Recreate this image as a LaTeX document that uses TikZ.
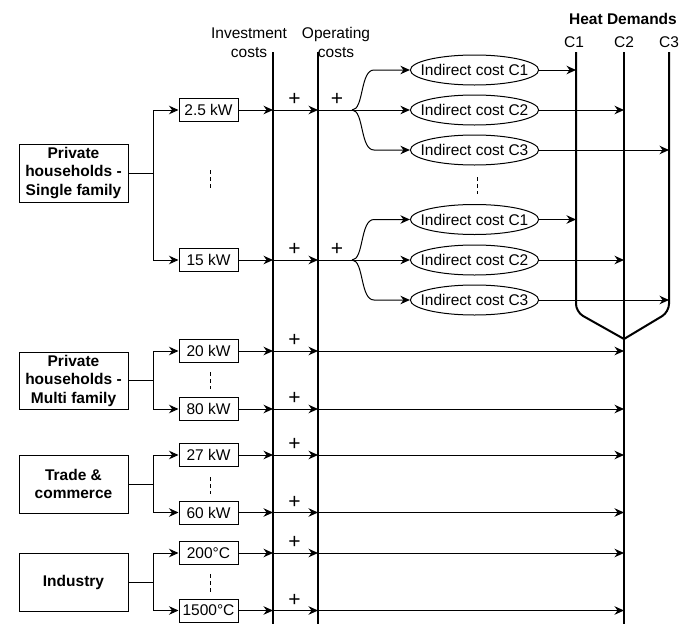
\documentclass[tikz,border=0pt]{standalone}
\usepackage{fontspec}
\setmainfont{Liberation Sans}
\usetikzlibrary{arrows.meta,shapes.geometric}
\begin{document}
\begin{tikzpicture}[x=1pt,y=-1pt,
  every node/.style={font=\fontsize{15.5}{19}\selectfont, inner sep=0pt},
  catbox/.style={draw, line width=1pt, minimum width=109pt, minimum height=58pt, align=center, font=\fontsize{15.5}{18.5}\selectfont\bfseries},
  capbox/.style={draw, line width=1pt, minimum width=59pt, minimum height=23pt},
  costell/.style={draw, ellipse, line width=1pt, minimum width=127pt, minimum height=30pt, inner xsep=-8.5pt, inner ysep=0pt},
  link/.style={line width=1pt},
  arr/.style={line width=1pt, -{Stealth[length=9.5pt,width=8.5pt]}},
  bar/.style={line width=2pt},
  plus/.style={font=\fontsize{21}{21}\selectfont},
  dots/.style={line width=1pt, dash pattern=on 4pt off 3pt},
]
\useasboundingbox (0,0) rectangle (694,624);

% vertical bars
\coordinate (invtop) at (273,52);
\coordinate (optop) at (318,52);
\coordinate (c1top) at (576,52);
\coordinate (c2top) at (624,52);
\coordinate (c3top) at (669,52);
\coordinate (merge) at (624,339);
\draw[bar] (invtop) -- (273,624);
\draw[bar] (optop) -- (318,624);
\draw[bar] (c2top) -- (624,624);
\draw[bar, rounded corners=8pt] (c1top) -- (576,312) -- (merge);
\draw[bar, rounded corners=8pt] (c3top) -- (669,312) -- (merge);

% top labels
\node[align=center] (invlab) at (249,42.5) {Investment\\costs};
\node[align=center] (oplab) at (336,42.5) {Operating\\costs};
\node[font=\fontsize{15.5}{19}\selectfont\bfseries] (hd) at (623,19) {Heat Demands};
\node (lc1) at (574,42) {C1};
\node (lc2) at (624,42) {C2};
\node (lc3) at (669,42) {C3};

% category boxes
\node[catbox] (sf) at (73.5,173) {Private\\households -\\Single family};
\node[catbox, minimum height=57pt] (mf) at (73.5,380.5) {Private\\households -\\Multi family};
\node[catbox] (tc) at (73.5,484) {Trade \&\\commerce};
\node[catbox] (in) at (73.5,582) {Industry};

% capacity boxes
\node[capbox] (b1) at (208.5,110) {2.5 kW};
\node[capbox] (b2) at (208.5,260) {15 kW};
\node[capbox] (b3) at (208.5,351) {20 kW};
\node[capbox] (b4) at (208.5,409) {80 kW};
\node[capbox] (b5) at (208.5,455) {27 kW};
\node[capbox] (b6) at (208.5,512.5) {60 kW};
\node[capbox] (b7) at (208.5,553) {200°C};
\node[capbox] (b8) at (208.5,610.5) {1500°C};

% brackets
\coordinate (j1) at (153,173);
\coordinate (j2) at (153,380.5);
\coordinate (j3) at (153,484);
\coordinate (j4) at (153,582);
\draw[link] (sf.east) -- (j1);
\draw[arr] (j1) |- (b1.west);
\draw[arr] (j1) |- (b2.west);
\draw[link] (mf.east) -- (j2);
\draw[arr] (j2) |- (b3.west);
\draw[arr] (j2) |- (b4.west);
\draw[link] (tc.east) -- (j3);
\draw[arr] (j3) |- (b5.west);
\draw[arr] (j3) |- (b6.west);
\draw[link] (in.east) -- (j4);
\draw[arr] (j4) |- (b7.west);
\draw[arr] (j4) |- (b8.west);

% dots
\draw[dots] (210.5,170) -- (210.5,189);
\draw[dots] (210.5,372) -- (210.5,389);
\draw[dots] (210.5,477) -- (210.5,494);
\draw[dots] (210.5,574) -- (210.5,593);
\draw[dots] (477.5,177) -- (477.5,194);

% box -> investment -> operating
\foreach \b in {b1,b2,b3,b4,b5,b6,b7,b8}{
  \draw[arr] (\b.east) -- (\b.east -| invtop);
  \draw[arr] (\b.east -| invtop) -- (\b.east -| optop);
  \path (\b.east -| invtop) ++(21.5,-10.5) node[plus] {+};
}
% operating -> C2 for lower rows
\foreach \b in {b3,b4,b5,b6,b7,b8}{
  \draw[arr] (\b.east -| optop) -- (\b.east -| c2top);
}

% ellipses
\node[costell] (e11) at (474.5,70) {Indirect cost C1};
\node[costell] (e12) at (474.5,110) {Indirect cost C2};
\node[costell] (e13) at (474.5,150) {Indirect cost C3};
\node[costell] (e21) at (474.5,219.5) {Indirect cost C1};
\node[costell] (e22) at (474.5,260) {Indirect cost C2};
\node[costell] (e23) at (474.5,300) {Indirect cost C3};

% second plus and fans
\node[plus] (p1) at (337,99.5) {+};
\node[plus] (p2) at (337,249.5) {+};
\coordinate (f1) at (352,110);
\coordinate (f2) at (352,260);
\draw[link] (b1.east -| optop) -- (f1);
\draw[link] (b2.east -| optop) -- (f2);
\draw[arr] (f1) -- (e12.west);
\draw[arr] (f1) .. controls (364,110) and (360,70) .. (374,70) -- (e11.west);
\draw[arr] (f1) .. controls (364,110) and (360,150) .. (374,150) -- (e13.west);
\draw[arr] (f2) -- (e22.west);
\draw[arr] (f2) .. controls (364,260) and (360,219.5) .. (374,219.5) -- (e21.west);
\draw[arr] (f2) .. controls (364,260) and (360,300) .. (374,300) -- (e23.west);

% ellipses -> heat demand lines
\draw[arr] (e11.east) -- (e11.east -| c1top);
\draw[arr] (e12.east) -- (e12.east -| c2top);
\draw[arr] (e13.east) -- (e13.east -| c3top);
\draw[arr] (e21.east) -- (e21.east -| c1top);
\draw[arr] (e22.east) -- (e22.east -| c2top);
\draw[arr] (e23.east) -- (e23.east -| c3top);
\end{tikzpicture}
\end{document}
